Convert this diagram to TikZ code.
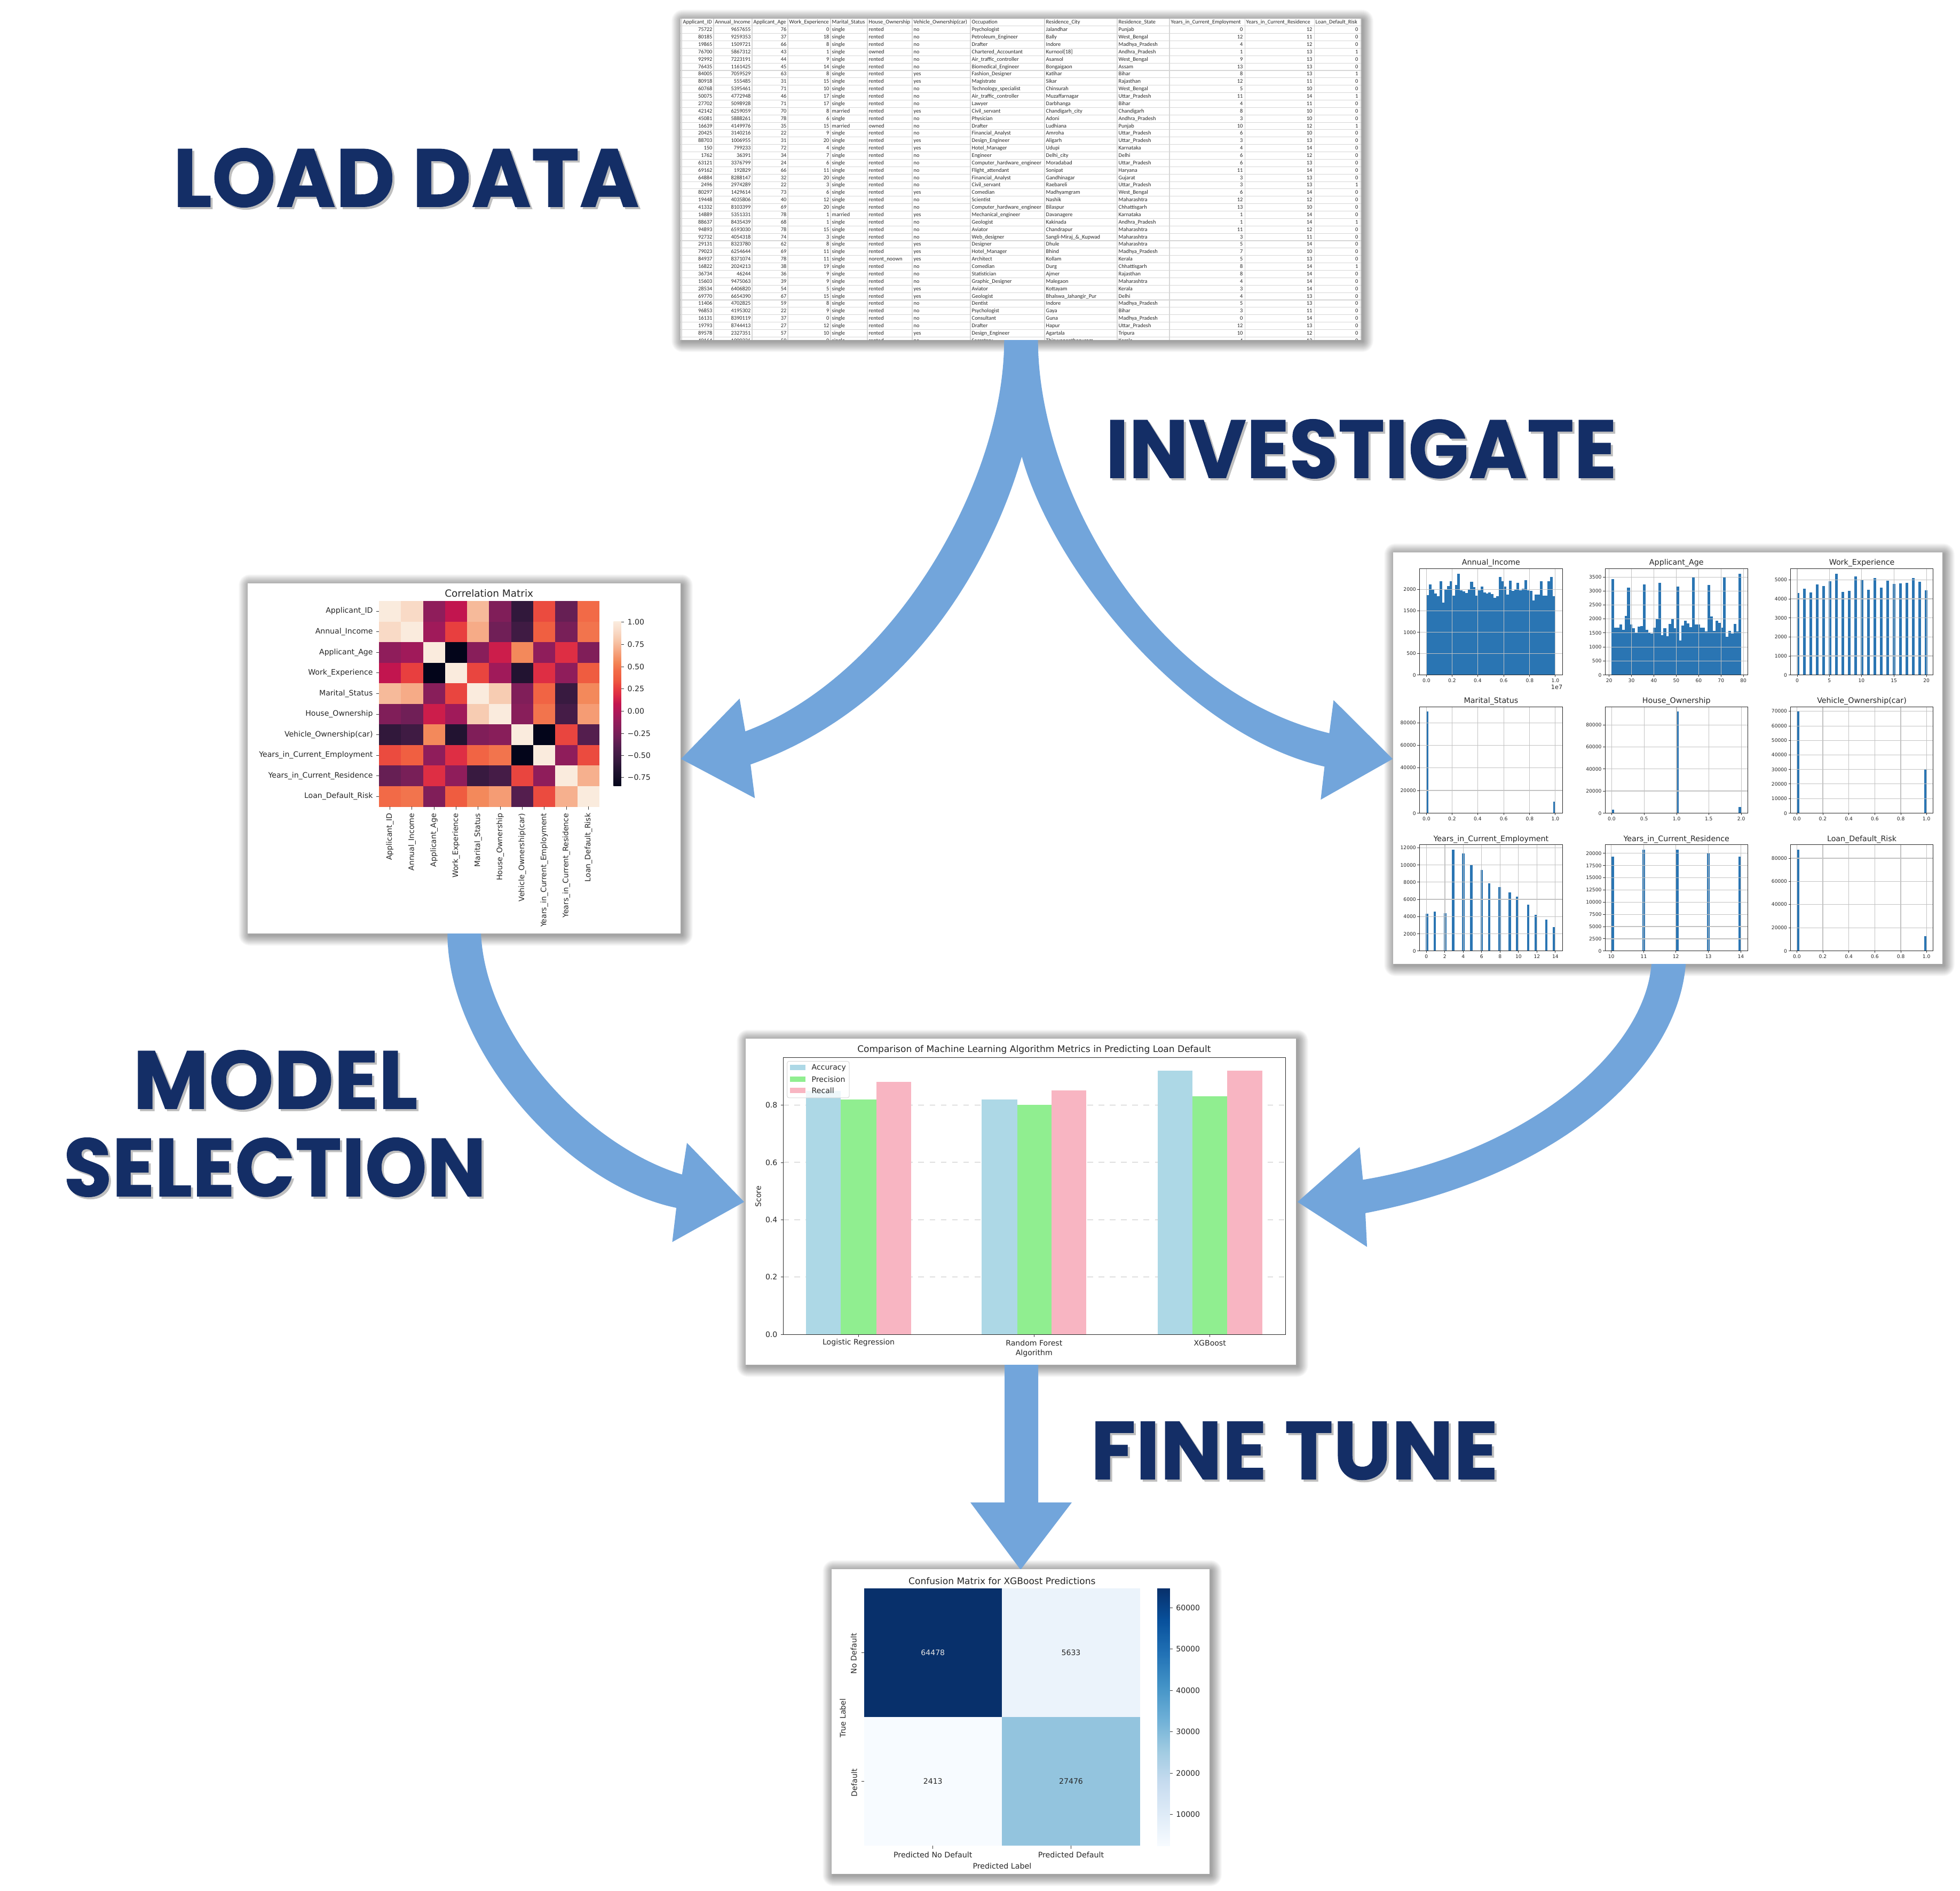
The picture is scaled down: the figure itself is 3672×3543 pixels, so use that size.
\documentclass[tikz,border=0pt]{standalone}
\usepackage{fontspec}
\usepackage{graphicx}
\setmainfont{DejaVu Sans}
\newfontfamily\xlfont{Carlito}
\newfontfamily\hdfont[BoldFeatures={FakeBold=0.5}]{Poppins}
\usetikzlibrary{calc}
\catcode`\_=12
\definecolor{arrowblue}{HTML}{72A5DB}
\definecolor{headblue}{HTML}{142E66}
\definecolor{histblue}{HTML}{2A75B3}
\definecolor{gridgrey}{HTML}{C2C2C2}
\definecolor{xlgrid}{HTML}{D6D6D6}
\definecolor{barA}{HTML}{ADD8E6}
\definecolor{barB}{HTML}{90EE90}
\definecolor{barC}{HTML}{F8B5C2}
\definecolor{txt}{HTML}{262626}
\definecolor{cmB}{HTML}{EBF3FB}
\definecolor{cmC}{HTML}{F7FBFF}
\definecolor{cmD}{HTML}{93C4DE}
\definecolor{r0}{HTML}{03051A}\definecolor{r5}{HTML}{140E26}\definecolor{r10}{HTML}{221331}
\definecolor{r15}{HTML}{35193E}\definecolor{r20}{HTML}{451C47}\definecolor{r25}{HTML}{581E50}
\definecolor{r30}{HTML}{701F57}\definecolor{r35}{HTML}{841E5A}\definecolor{r40}{HTML}{971C5B}
\definecolor{r45}{HTML}{AE1759}\definecolor{r50}{HTML}{C2154F}\definecolor{r55}{HTML}{DB2A45}
\definecolor{r60}{HTML}{E83F3F}\definecolor{r65}{HTML}{EF5C40}\definecolor{r70}{HTML}{F26A47}
\definecolor{r75}{HTML}{F38455}\definecolor{r80}{HTML}{F59C74}\definecolor{r85}{HTML}{F6B594}
\definecolor{r90}{HTML}{F7CCB2}\definecolor{r95}{HTML}{F9DDCB}\definecolor{r100}{HTML}{FAEBDD}
\definecolor{b0}{HTML}{F7FBFF}\definecolor{b1}{HTML}{DEEBF7}\definecolor{b2}{HTML}{C6DBEF}
\definecolor{b3}{HTML}{9ECAE1}\definecolor{b4}{HTML}{6BAED6}\definecolor{b5}{HTML}{4292C6}
\definecolor{b6}{HTML}{2171B5}\definecolor{b7}{HTML}{08519C}\definecolor{b8}{HTML}{08306B}
\pgfdeclareverticalshading{rocketbar}{100bp}{color(0bp)=(r0);color(25bp)=(r0);color(27.5bp)=(r5);color(30bp)=(r10);color(32.5bp)=(r15);color(35bp)=(r20);color(37.5bp)=(r25);color(40bp)=(r30);color(42.5bp)=(r35);color(45bp)=(r40);color(47.5bp)=(r45);color(50bp)=(r50);color(52.5bp)=(r55);color(55bp)=(r60);color(57.5bp)=(r65);color(60bp)=(r70);color(62.5bp)=(r75);color(65bp)=(r80);color(67.5bp)=(r85);color(70bp)=(r90);color(72.5bp)=(r95);color(75bp)=(r100);color(100bp)=(r100)}
\pgfdeclareverticalshading{bluesbar}{100bp}{color(0bp)=(b0);color(25bp)=(b0);color(31.25bp)=(b1);color(37.5bp)=(b2);color(43.75bp)=(b3);color(50bp)=(b4);color(56.25bp)=(b5);color(62.5bp)=(b6);color(68.75bp)=(b7);color(75bp)=(b8);color(100bp)=(b8)}
\newcount\autonum
\tikzset{
  autoname/.code={\global\advance\autonum by 1 \tikzset{name=n\the\autonum}},
  lab/.style={autoname,inner sep=0pt,text=txt,font=\fontsize{#1}{#1}\selectfont},
  xlr/.style={autoname,inner sep=0pt,anchor=base east,text=black!85,font=\xlfont\fontsize{2.95}{3}\selectfont},
  xll/.style={autoname,inner sep=0pt,anchor=base west,text=black!85,font=\xlfont\fontsize{2.95}{3}\selectfont},
  panelbox/.style={fill=white,draw=none,inner sep=0pt},
  head/.style={inner sep=0pt,text=headblue,font=\hdfont\bfseries\fontsize{44}{44}\selectfont},
  headshade/.style={inner sep=0pt,text=black!25,font=\hdfont\bfseries\fontsize{44}{44}\selectfont},
  bigarrow/.style={fill=arrowblue,draw=none},
  histbar/.style={fill=histblue,draw=none},
  gridl/.style={draw=gridgrey,line width=0.35pt},
  tickl/.style={draw=black!80,line width=0.25pt},
  frame/.style={draw=black!85,line width=0.3pt},
}
\newcommand\softshadow[4]{%
  \foreach \sh in {20,19,...,1}{%
    \fill[black,opacity=0.018,rounded corners=\sh*0.3pt]
      ({#1-\sh*1.0+3},{#2-\sh*1.0+3}) rectangle ({#3+\sh*1.0+3},{#4+\sh*1.0+3});
  }}
\newcommand\panel[5]{%
  \pgfmathsetmacro\pw{(#4-#2)*0.01}\pgfmathsetmacro\ph{(#5-#3)*0.01}%
  \node[panelbox,name=#1,minimum width=\pw cm,minimum height=\ph cm] at ({(#2+#4)/2},{(#3+#5)/2}) {};}
% x0 x1 top bottom title xticks yticks
\newcommand\histaxes[7]{%
  \foreach \p/\l in {#6}{%
    \draw[gridl] (\p,#3) -- (\p,#4);
    \draw[tickl] (\p,#4) -- (\p,#4+6);
    \node[lab=2.6] at (\p,#4+20) {\l};}
  \foreach \p/\l in {#7}{%
    \draw[gridl] (#1,\p) -- (#2,\p);
    \draw[tickl] (#1,\p) -- (#1-6,\p);
    \node[lab=2.6,anchor=east] at (#1-9,\p) {\l};}
  \draw[frame] (#1,#3) rectangle (#2,#4);
  \node[lab=4.05] at ({(#1+#2)/2},#3-20) {#5};}
\begin{document}
\begin{tikzpicture}[x=0.01cm,y=-0.01cm]
\useasboundingbox (0,0) rectangle (3672,3543);
\fill[white] (0,0) rectangle (3672,3543);
% shadows
\softshadow{1275}{35}{2550}{637}
\softshadow{464}{1093}{1275}{1749}
\softshadow{2610}{1035}{3639}{1806}
\softshadow{1397}{1946}{2428}{2557}
\softshadow{1558}{2940}{2266}{3511}
% arrows
\begin{scope}[shift={(1240,620)},x=0.008929cm,y=-0.00574cm]
\fill[bigarrow] (718,30) .. controls (718,500) and (480,1130) .. (175,1307) -- (163,1200) -- (40,1397) -- (195,1525) -- (186,1415) .. controls (520,1230) and (690,760) .. (755,410) .. controls (820,780) and (1100,1320) .. (1390,1422) -- (1382,1530) -- (1533,1397) -- (1409,1205) -- (1400,1313) .. controls (1020,1170) and (789,500) .. (789,30) -- cycle;
\end{scope}
\begin{scope}[shift={(800,1730)},x=0.015306cm,y=-0.003954cm]
\fill[bigarrow] (25,48) .. controls (25,600) and (170,1240) .. (305,1348) -- (300,1510) -- (388,1320) -- (318,1040) -- (312,1190) .. controls (200,1060) and (72,550) .. (66,48) -- cycle;
\fill[bigarrow] (1498,190) .. controls (1490,620) and (1340,1090) .. (1145,1215) -- (1141,1060) -- (1065,1320) -- (1150,1533) -- (1148,1373) .. controls (1380,1200) and (1530,700) .. (1540,190) -- cycle;
\end{scope}
\fill[bigarrow] (1882,2557) -- (1882,2815) -- (1818,2815) -- (1912,2941) -- (2008,2815) -- (1945,2815) -- (1945,2557) -- cycle;
% panels
\panel{table}{1275}{35}{2550}{637}
\panel{corr}{464}{1093}{1275}{1749}
\panel{hists}{2610}{1035}{3639}{1806}
\panel{bars}{1397}{1946}{2428}{2557}
\panel{conf}{1558}{2940}{2266}{3511}
% headings
\node[headshade,name=hs1] at (765,337) {\scalebox{0.985}[1]{LOAD DATA}};
\node[head,name=h1] at (761,333) {\scalebox{0.985}[1]{LOAD DATA}};
\node[headshade,name=hs2] at (2554,845) {\scalebox{0.96}[1]{INVESTIGATE}};
\node[head,name=h2] at (2550,841) {\scalebox{0.96}[1]{INVESTIGATE}};
\node[headshade,name=hs3] at (520,2027) {MODEL};
\node[head,name=h3] at (516,2023) {MODEL};
\node[headshade,name=hs4] at (519,2191) {\scalebox{0.955}[1]{SELECTION}};
\node[head,name=h4] at (515,2187) {\scalebox{0.955}[1]{SELECTION}};
\node[headshade,name=hs5] at (2429,2722) {FINE TUNE};
\node[head,name=h5] at (2425,2718) {FINE TUNE};
% ---------- table
\begin{scope}
\clip (1275,35) rectangle (2550,637);
\foreach \k in {0,...,43}{\pgfmathsetmacro\yy{48.8+13.87*\k}\draw[xlgrid,line width=0.3pt] (1275,\yy) -- (2550,\yy);}
\foreach \cx in {1277,1337,1409,1476,1556,1625,1709,1818,1957,2093,2191,2332,2462,2548}{\draw[xlgrid,line width=0.3pt] (\cx,35) -- (\cx,637);}
\foreach \cx/\tx in {1279/Applicant_ID,1339/Annual_Income,1411/Applicant_Age,1478/Work_Experience,1558/Marital_Status,1627/House_Ownership,1711/Vehicle_Ownership(car),1820/Occupation,1959/Residence_City,2095/Residence_State,2193/Years_in_Current_Employment,2334/Years_in_Current_Residence,2464/Loan_Default_Risk}{\node[xll] at (\cx,44.7) {\tx};}
\foreach \ca/\cb/\cc/\cd/\ce/\cf/\cg/\ch/\ci/\cj/\ck/\cl/\cm [count=\rw from 0] in {
75722/9657655/76/0/single/rented/no/Psychologist/Jalandhar/Punjab/0/12/0,
80185/9259353/37/18/single/rented/no/Petroleum_Engineer/Bally/West_Bengal/12/11/0,
19865/1509721/66/8/single/rented/no/Drafter/Indore/Madhya_Pradesh/4/12/0,
76700/5867312/43/1/single/owned/no/Chartered_Accountant/Kurnool[18]/Andhra_Pradesh/1/13/1,
92992/7223191/44/9/single/rented/no/Air_traffic_controller/Asansol/West_Bengal/9/13/0,
76435/1161425/45/14/single/rented/no/Biomedical_Engineer/Bongaigaon/Assam/13/13/0,
84005/7059529/63/8/single/rented/yes/Fashion_Designer/Katihar/Bihar/8/13/1,
80918/555485/31/15/single/rented/yes/Magistrate/Sikar/Rajasthan/12/11/0,
60768/5395461/71/10/single/rented/no/Technology_specialist/Chinsurah/West_Bengal/5/10/0,
50075/4772948/46/17/single/rented/no/Air_traffic_controller/Muzaffarnagar/Uttar_Pradesh/11/14/1,
27702/5098928/71/17/single/rented/no/Lawyer/Darbhanga/Bihar/4/11/0,
42142/6259059/70/8/married/rented/yes/Civil_servant/Chandigarh_city/Chandigarh/8/10/0,
45081/5888261/78/6/single/rented/no/Physician/Adoni/Andhra_Pradesh/3/10/0,
16639/4149976/35/15/married/owned/no/Drafter/Ludhiana/Punjab/10/12/1,
20425/3140216/22/9/single/rented/no/Financial_Analyst/Amroha/Uttar_Pradesh/6/10/0,
88703/1006955/31/20/single/rented/yes/Design_Engineer/Aligarh/Uttar_Pradesh/3/13/0,
150/799233/72/4/single/rented/yes/Hotel_Manager/Udupi/Karnataka/4/14/0,
1762/36391/34/7/single/rented/no/Engineer/Delhi_city/Delhi/6/12/0,
63121/3376799/24/6/single/rented/no/Computer_hardware_engineer/Moradabad/Uttar_Pradesh/6/13/0,
69162/192829/66/11/single/rented/no/Flight_attendant/Sonipat/Haryana/11/14/0,
64884/8288147/32/20/single/rented/no/Financial_Analyst/Gandhinagar/Gujarat/3/13/0,
2496/2974289/22/3/single/rented/no/Civil_servant/Raebareli/Uttar_Pradesh/3/13/1,
80297/1429614/73/6/single/rented/yes/Comedian/Madhyamgram/West_Bengal/6/14/0,
19448/4035806/40/12/single/rented/no/Scientist/Nashik/Maharashtra/12/12/0,
41332/8103399/69/20/single/rented/no/Computer_hardware_engineer/Bilaspur/Chhattisgarh/13/10/0,
14889/5351331/78/1/married/rented/yes/Mechanical_engineer/Davanagere/Karnataka/1/14/0,
88637/8435439/68/1/single/rented/no/Geologist/Kakinada/Andhra_Pradesh/1/14/1,
94893/6593030/78/15/single/rented/no/Aviator/Chandrapur/Maharashtra/11/12/0,
92732/4054318/74/3/single/rented/no/Web_designer/Sangli-Miraj_\&_Kupwad/Maharashtra/3/11/0,
29131/8323780/62/8/single/rented/yes/Designer/Dhule/Maharashtra/5/14/0,
79023/6254644/69/11/single/rented/yes/Hotel_Manager/Bhind/Madhya_Pradesh/7/10/0,
84937/8371074/78/11/single/norent_noown/yes/Architect/Kollam/Kerala/5/13/0,
16822/2024213/38/19/single/rented/no/Comedian/Durg/Chhattisgarh/8/14/1,
36734/46244/36/9/single/rented/no/Statistician/Ajmer/Rajasthan/8/14/0,
15603/9475063/39/9/single/rented/no/Graphic_Designer/Malegaon/Maharashtra/4/14/0,
28534/6406820/54/5/single/rented/yes/Aviator/Kottayam/Kerala/3/14/0,
69770/6654390/67/15/single/rented/yes/Geologist/Bhalswa_Jahangir_Pur/Delhi/4/13/0,
11406/4702825/59/8/single/rented/no/Dentist/Indore/Madhya_Pradesh/5/13/0,
96853/4195302/22/9/single/rented/no/Psychologist/Gaya/Bihar/3/11/0,
16131/8390119/37/0/single/rented/no/Consultant/Guna/Madhya_Pradesh/0/14/0,
19793/8744413/27/12/single/rented/no/Drafter/Hapur/Uttar_Pradesh/12/13/0,
89578/2327351/57/10/single/rented/yes/Design_Engineer/Agartala/Tripura/10/12/0,
40164/1900226/59/0/single/rented/no/Secretary/Thiruvananthapuram/Kerala/4/13/0}{
  \pgfmathsetmacro\yy{58.7+13.87*\rw}
  \node[xlr] at (1335,\yy) {\ca};
  \node[xlr] at (1407,\yy) {\cb};
  \node[xlr] at (1474,\yy) {\cc};
  \node[xlr] at (1554,\yy) {\cd};
  \node[xll] at (1558,\yy) {\ce};
  \node[xll] at (1627,\yy) {\cf};
  \node[xll] at (1711,\yy) {\cg};
  \node[xll] at (1820,\yy) {\ch};
  \node[xll] at (1959,\yy) {\ci};
  \node[xll] at (2095,\yy) {\cj};
  \node[xlr] at (2329,\yy) {\ck};
  \node[xlr] at (2459,\yy) {\cl};
  \node[xlr] at (2545,\yy) {\cm};
}
\end{scope}
% ---------- correlation matrix
\begin{scope}[shift={(450,1080)},x=0.005357cm,y=-0.004337cm]
\foreach \rowv [count=\j from 0] in {
 {100,94,38,50,86,34,14,62,28,70},
 {94,100,42,60,83,30,18,66,32,72},
 {38,42,100,0,36,52,76,38,56,34},
 {50,60,0,100,61,42,10,56,38,65},
 {86,83,36,61,100,90,34,68,16,76},
 {34,30,52,42,90,100,36,72,20,80},
 {14,18,76,10,34,36,100,0,61,24},
 {62,66,38,56,68,72,0,100,38,62},
 {28,32,56,38,16,20,61,38,100,84},
 {70,72,34,65,76,80,24,62,84,100}}{
  \foreach \tv [count=\i from 0] in \rowv {
    \pgfmathtruncatemacro\hb{floor(\tv/5)*5}
    \pgfmathtruncatemacro\hn{min(\hb+5,100)}
    \pgfmathtruncatemacro\hf{100-(\tv-\hb)*20}
    \fill[fill=r\hb!\hf!r\hn] ({485+77.1*\i},{106+88.9*\j}) rectangle ({485+77.1*(\i+1)+0.6},{106+88.9*(\j+1)+0.6});
  }
}
\shade[shading=rocketbar] (1305,196) rectangle (1332,905);
\foreach \lb/\py in {1.00/198,0.75/294,0.50/390,0.25/486,0.00/582,−0.25/678,−0.50/774,−0.75/868}{
  \draw[tickl] (1332,\py) -- (1342,\py);
  \node[lab=4,anchor=west] at (1353,\py) {\lb};}
\foreach \lb [count=\i from 0] in {Applicant_ID,Annual_Income,Applicant_Age,Work_Experience,Marital_Status,House_Ownership,Vehicle_Ownership(car),Years_in_Current_Employment,Years_in_Current_Residence,Loan_Default_Risk}{
  \pgfmathsetmacro\py{150.5+88.9*\i}
  \pgfmathsetmacro\px{523.5+77.1*\i}
  \draw[tickl] (475,\py) -- (485,\py);
  \draw[tickl] (\px,995) -- (\px,1008);
  \node[lab=4,anchor=east] at (465,\py) {\lb};
  \node[lab=4,anchor=east,rotate=90] at (\px,1022) {\lb};}
\node[lab=5.25] at (870,74) {Correlation Matrix};
\end{scope}
% ---------- histograms
\begin{scope}[shift={(2600,1020)},x=0.006761cm,y=-0.005102cm]
\foreach \tv [count=\i from 0] in {186,148,166,180,190,136,214,166,153,136,189,150,107,168,172,178,167,137,156,188,168,155,177,180,177,183,196,191,120,136,155,184,134,170,167,141,168,163,131,168,170,205,185,185,136,189,189,135,120,190}
  {\fill[histbar] ({107+7.14*\i},\tv) rectangle ({107+7.14*(\i+1)+0.3},480);}
\foreach \tv [count=\i from 0] in {128,305,305,295,313,262,158,295,307,325,302,300,148,313,325,327,305,275,142,333,307,338,292,275,307,155,353,298,280,290,303,121,295,295,305,305,320,150,265,317,280,288,305,122,340,318,327,292,320,107}
  {\fill[histbar] ({620+7.18*\i},\tv) rectangle ({620+7.18*(\i+1)+0.3},480);}
\foreach \tv [count=\i from 0] in {178,162,176,147,153,135,107,174,171,118,130,166,124,158,133,145,143,141,124,137,168}
  {\fill[histbar] ({1133+17.75*\i},\tv) rectangle ({1140+17.75*\i},480);}
\foreach \p/\tv in {109/614,461/945}{\fill[histbar] (\p-3,\tv) rectangle (\p+3,988);}
\foreach \p/\tv in {623/975,803/614,975/965}{\fill[histbar] (\p-3.5,\tv) rectangle (\p+3.5,988);}
\foreach \p/\tv in {1137/614,1489/825}{\fill[histbar] (\p-3.5,\tv) rectangle (\p+3.5,988);}
\foreach \p/\tv in {109/1357,130/1350,159/1355,181/1122,209/1135,231/1178,260/1197,281/1245,310/1259,338/1278,359/1294,389/1323,410/1361,439/1378,461/1406}{\fill[histbar] (\p-3.5,\tv) rectangle (\p+3.5,1494);}
\foreach \p/\tv in {623/1148,709/1122,802/1122,888/1133,975/1147}{\fill[histbar] (\p-3.5,\tv) rectangle (\p+3.5,1494);}
\foreach \p/\tv in {1136/1122,1489/1439}{\fill[histbar] (\p-3.5,\tv) rectangle (\p+3.5,1494);}
\histaxes{88}{484}{89}{480}{Annual_Income}{107/0.0,178/0.2,249/0.4,321/0.6,393/0.8,464/1.0}{480/0,401/500,323/1000,244/1500,166/2000}
\node[lab=3.2] at (468,525) {1e7};
\histaxes{602}{997}{89}{480}{Applicant_Age}{613/20,675/30,737/40,799/50,861/60,923/70,985/80}{480/0,428/500,377/1000,325/1500,273/2000,222/2500,171/3000,120/3500}
\histaxes{1116}{1510}{89}{480}{Work_Experience}{1134/0,1223/5,1312/10,1402/15,1492/20}{480/0,410/1000,340/2000,270/3000,200/4000,130/5000}
\histaxes{88}{484}{597}{988}{Marital_Status}{107/0.0,178/0.2,249/0.4,321/0.6,393/0.8,464/1.0}{988/0,904/20000,821/40000,738/60000,656/80000}
\histaxes{602}{997}{597}{988}{House_Ownership}{620/0.0,710/0.5,800/1.0,889/1.5,979/2.0}{988/0,906/20000,825/40000,744/60000,664/80000}
\histaxes{1116}{1510}{597}{988}{Vehicle_Ownership(car)}{1133/0.0,1205/0.2,1277/0.4,1349/0.6,1421/0.8,1492/1.0}{988/0,934/10000,880/20000,827/30000,773/40000,720/50000,667/60000,613/70000}
\histaxes{88}{484}{1104}{1494}{Years_in_Current_Employment}{107/0,158/2,209/4,260/6,311/8,362/10,413/12,464/14}{1494/0,1431/2000,1368/4000,1304/6000,1241/8000,1178/10000,1115/12000}
\histaxes{602}{997}{1104}{1494}{Years_in_Current_Residence}{619/10,709/11,798/12,888/13,978/14}{1494/0,1449/2500,1404/5000,1360/7500,1315/10000,1270/12500,1225/15000,1180/17500,1135/20000}
\histaxes{1116}{1510}{1104}{1494}{Loan_Default_Risk}{1133/0.0,1205/0.2,1277/0.4,1349/0.6,1421/0.8,1492/1.0}{1494/0,1409/20000,1323/40000,1238/60000,1153/80000}
\end{scope}
% ---------- bar chart
\begin{scope}[shift={(1380,1930)},x=0.006761cm,y=-0.004082cm]
\foreach \py/\lb in {1394/0.0,1131/0.2,869/0.4,606/0.6,343/0.8}{
  \draw[gridgrey,line width=0.3pt,dashed] (129,\py) -- (1520,\py);
  \draw[tickl] (129,\py) -- (122,\py);
  \node[lab=4,anchor=east] at (114,\py) {\lb};}
\fill[barA] (192,278) rectangle (288,1394);
\fill[barB] (288,317) rectangle (387,1394);
\fill[barC] (387,237) rectangle (484,1394);
\fill[barA] (678,317) rectangle (777,1394);
\fill[barB] (777,343) rectangle (873,1394);
\fill[barC] (873,277) rectangle (969,1394);
\fill[barA] (1166,185) rectangle (1262,1394);
\fill[barB] (1262,304) rectangle (1359,1394);
\fill[barC] (1359,185) rectangle (1456,1394);
\draw[frame] (129,125) rectangle (1520,1394);
\foreach \px/\lb in {338/Logistic Regression,824/Random Forest,1311/XGBoost}{
  \draw[tickl] (\px,1394) -- (\px,1406);
  \node[lab=4] at (\px,1432) {\lb};}
\node[lab=4] at (824,1481) {Algorithm};
\node[lab=4,rotate=90] at (60,762) {Score};
\node[lab=4.85] at (824,90) {Comparison of Machine Learning Algorithm Metrics in Predicting Loan Default};
\fill[white,fill opacity=0.8,draw=black!15,draw opacity=1,line width=0.3pt,rounded corners=1pt] (140,143) rectangle (312,310);
\fill[barA] (148,160) rectangle (190,184);
\fill[barB] (148,212) rectangle (190,237);
\fill[barC] (148,265) rectangle (190,289);
\node[lab=4,anchor=west] at (207,172) {Accuracy};
\node[lab=4,anchor=west] at (207,225) {Precision};
\node[lab=4,anchor=west] at (207,277) {Recall};
\end{scope}
% ---------- confusion matrix
\begin{scope}[shift={(1540,2920)},x=0.004847cm,y=-0.003827cm]
\fill[b8] (162,147) rectangle (694.5,776.5);
\fill[cmB] (694,147) rectangle (1228,776.5);
\fill[cmC] (162,776) rectangle (694.5,1405);
\fill[cmD] (694,776) rectangle (1228,1405);
\node[lab=4,text=white!90!black] at (428,461) {64478};
\node[lab=4] at (961,461) {5633};
\node[lab=4] at (428,1090) {2413};
\node[lab=4] at (961,1090) {27476};
\shade[shading=bluesbar] (1294,147) rectangle (1343,1405);
\foreach \py/\lb in {240/60000,443/50000,645/40000,847/30000,1050/20000,1252/10000}{
  \draw[tickl] (1343,\py) -- (1354,\py);
  \node[lab=4,anchor=west] at (1365,\py) {\lb};}
\draw[tickl] (152,461) -- (162,461);
\draw[tickl] (152,1090) -- (162,1090);
\draw[tickl] (428,1405) -- (428,1420);
\draw[tickl] (961,1405) -- (961,1420);
\node[lab=4.05] at (428,1449) {Predicted No Default};
\node[lab=4.05] at (961,1449) {Predicted Default};
\node[lab=4.05] at (695,1503) {Predicted Label};
\node[lab=4.05,rotate=90] at (122,465) {No Default};
\node[lab=4.05,rotate=90] at (124,1097) {Default};
\node[lab=4.05,rotate=90] at (80,780) {True Label};
\node[lab=4.85] at (695,110) {Confusion Matrix for XGBoost Predictions};
\end{scope}
\end{tikzpicture}
\end{document}
